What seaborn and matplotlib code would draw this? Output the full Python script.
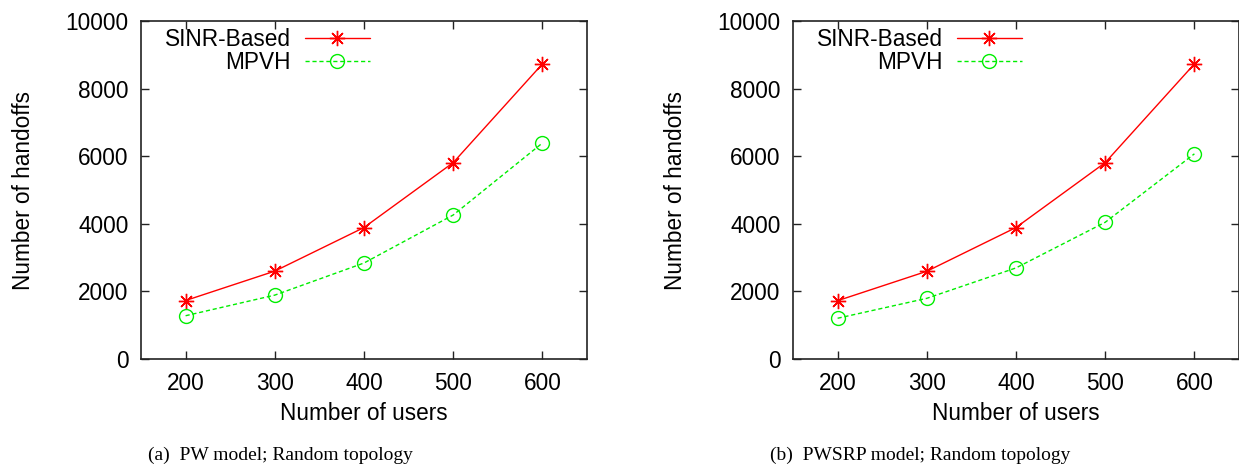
import pandas as pd
import matplotlib
matplotlib.use("Agg")
import matplotlib.pyplot as plt
import seaborn as sns

# Data
users = [200, 300, 400, 500, 600]

pw_sinr = [1730, 2600, 3890, 5810, 8730]
pw_mpvh = [1280, 1890, 2840, 4260, 6390]

pwsrp_sinr = [1725, 2595, 3890, 5810, 8730]
pwsrp_mpvh = [1205, 1795, 2695, 4045, 6070]

captions = ["(a)  PW model; Random topology", "(b)  PWSRP model; Random topology"]

sns.set_style("ticks")
plt.rcParams['font.family'] = ['Liberation Sans', 'DejaVu Sans']
plt.rcParams['text.color'] = 'black'
plt.rcParams['axes.labelcolor'] = 'black'

W, H = 1239, 468
fig = plt.figure(figsize=(W / 100, H / 100), dpi=100)

panels = [
    (141, pw_sinr, pw_mpvh, captions[0], 280),
    (793, pwsrp_sinr, pwsrp_mpvh, captions[1], 920),
]

FS = 16.3

for left, sinr, mpvh, cap, cap_x in panels:
    ax = fig.add_axes([left / W, (H - 359) / H, 446 / W, 338 / H])
    df = pd.DataFrame({'users': users, 'sinr': sinr, 'mpvh': mpvh})

    sns.lineplot(data=df, x='users', y='sinr', ax=ax, color='#ff0000', lw=1,
                 marker=(8, 2, 0), markersize=11, markeredgewidth=1,
                 markeredgecolor='#ff0000', label='SINR-Based')
    sns.lineplot(data=df, x='users', y='mpvh', ax=ax, color='#00ee00', lw=1,
                 marker='o', markersize=10, markerfacecolor='none',
                 markeredgewidth=1, markeredgecolor='#00ee00',
                 label='MPVH')
    ax.lines[1].set_dashes([3, 2])

    ax.set_xlim(150, 650)
    ax.set_ylim(0, 10000)
    ax.set_xticks(users)
    ax.set_yticks(range(0, 10001, 2000))
    ax.tick_params(direction='in', length=6, width=1, labelsize=FS,
                   top=True, right=True, colors='#222222', labelcolor='black')
    ax.tick_params(axis='x', pad=9.5)
    ax.tick_params(axis='y', pad=9)
    for s in ax.spines.values():
        s.set_linewidth(1.2)
        s.set_color('#222222')
    ax.set_xlabel('Number of users', fontsize=FS, labelpad=5)
    ax.set_ylabel('Number of handoffs', fontsize=FS, labelpad=22)

    leg = ax.legend(loc='upper left', frameon=False, markerfirst=False,
                    fontsize=FS, handlelength=2.9, handletextpad=0.6,
                    labelspacing=0.0, borderaxespad=0.0, borderpad=0.0,
                    bbox_to_anchor=(0.054, 0.979))
    leg.get_lines()[1].set_dashes([3, 2])

    fig.text(cap_x / W, 1 - 455 / H, cap, ha='center', va='center',
             fontsize=14, family=['Liberation Serif', 'DejaVu Serif'])

fig.savefig('out.png', dpi=100)
